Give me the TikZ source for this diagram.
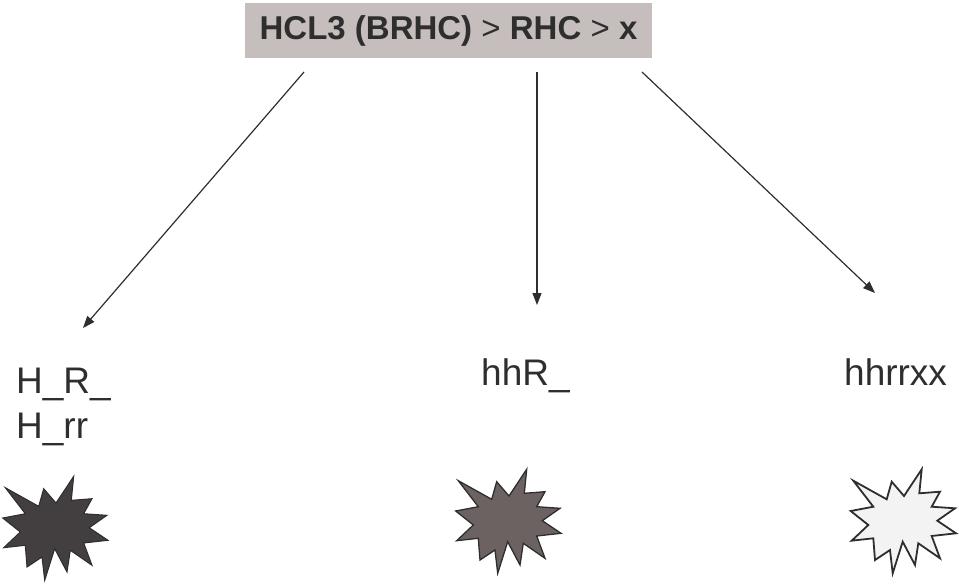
\documentclass[tikz,border=0pt]{standalone}
\usepackage{fontspec}
\setmainfont{Liberation Sans}
\usetikzlibrary{arrows.meta}

\definecolor{boxgray}{HTML}{C6BEBC}
\definecolor{burstdark}{HTML}{433E3F}
\definecolor{burstmid}{HTML}{6B6261}
\definecolor{burstlight}{HTML}{F4F3F3}
\definecolor{inkgray}{HTML}{2E2E2E}

\tikzset{
  titlebox/.style={fill=boxgray,inner sep=0pt,minimum width=407pt,minimum height=55pt,text=inkgray,font=\fontsize{33}{40}\selectfont},
  lbl/.style={inner sep=0pt,font=\fontsize{37}{45}\selectfont,text=inkgray},
  arr/.style={draw=inkgray,line width=1.2pt,-{Triangle[length=12pt,width=9pt]}},
  burst/.pic={
    \draw[pic actions] (-49.7,-40.3) -- (-16.3,-21.7) -- (-11.3,-39.3) -- (1,-25) -- (18.7,-51.7) -- (16.3,-27.7)
      -- (37,-29.3) -- (28.7,-14.3) -- (52,-12.7) -- (34.3,-0.3) -- (53,12.3) -- (28.7,15)
      -- (37,37.3) -- (15.3,22.3) -- (12,44) -- (-0.3,20.7) -- (-10.3,52.3) -- (-13,29)
      -- (-28,39) -- (-29.7,17.3) -- (-51.3,19.7) -- (-34.7,4) -- (-52.3,-10) -- (-29.7,-14.3) -- cycle;
  }
}

\begin{document}
\begin{tikzpicture}[x=1pt,y=-1pt]
\useasboundingbox (0,0) rectangle (959,587);

\node[titlebox] (title) at (448.5,30.5) {\textbf{HCL3 (BRHC)} > \textbf{RHC} > \textbf{x}};

\node[lbl,align=left,anchor=north west] (lblA) at (16,368) {H\_R\_\\H\_rr};
\node[lbl,anchor=base west] (lblB) at (481,385) {hhR\_};
\node[lbl,anchor=base west] (lblC) at (844,385) {hhrrxx};

\coordinate (fromA) at (304,72);
\coordinate (toA) at (83,328);
\coordinate (fromB) at (537,72);
\coordinate (toB) at (537,305);
\coordinate (fromC) at (642,72);
\coordinate (toC) at (875,293);
\draw[arr] (fromA) -- (toA);
\draw[arr] (fromB) -- (toB);
\draw[arr] (fromC) -- (toC);

\pic[fill=burstdark,draw=inkgray,line width=1pt] (burstA) at (55,528) {burst};
\pic[fill=burstmid,draw=inkgray,line width=1.3pt] (burstB) at (508,521) {burst};
\pic[fill=burstlight,draw=inkgray,line width=1.8pt] (burstC) at (903,521) {burst};
\end{tikzpicture}
\end{document}
